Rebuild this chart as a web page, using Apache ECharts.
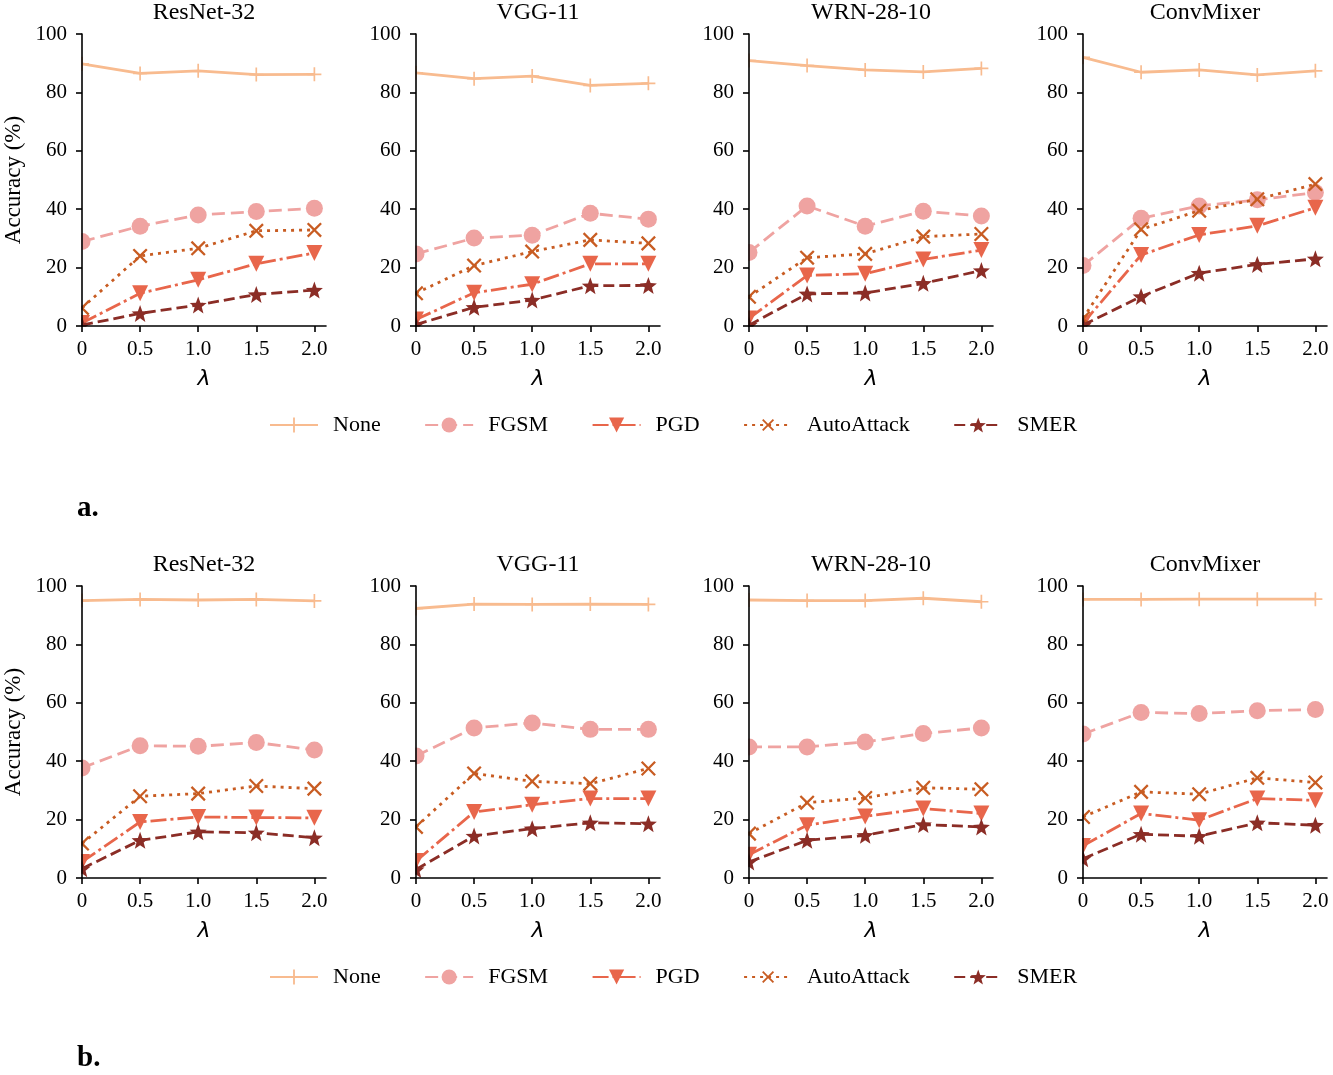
<!DOCTYPE html>
<html>
<head>
<meta charset="utf-8">
<script src="https://cdn.jsdelivr.net/npm/echarts@6/dist/echarts.min.js"></script>
<style>
  html, body { margin: 0; padding: 0; background: #fff; }
  #chart { width: 1333px; height: 1075px; }
</style>
</head>
<body>
<div id="chart"></div>
<script>
const LAMBDAS = [0, 0.5, 1, 1.5, 2]
const X_TICK_LABELS = ['0', '0.5', '1.0', '1.5', '2.0']
const MODELS = ['ResNet-32', 'VGG-11', 'WRN-28-10', 'ConvMixer']
const ATTACKS = ['None', 'FGSM', 'PGD', 'AutoAttack', 'SMER']
const PANEL_TAGS = ['a.', 'b.']

// rows: None, FGSM, PGD, AutoAttack, SMER
const a_resnet32 = [
  [89.8, 86.5, 87.4, 86.1, 86.2],
  [28.9, 34.2, 38.0, 39.2, 40.3],
  [1.0, 11.2, 15.8, 21.3, 25.0],
  [6.2, 24.0, 26.6, 32.6, 32.9],
  [0.3, 4.3, 7.2, 10.8, 12.3],
]
const a_vgg11 = [
  [86.7, 84.7, 85.6, 82.4, 83.1],
  [24.7, 30.1, 31.1, 38.6, 36.6],
  [2.2, 11.4, 14.3, 21.3, 21.3],
  [11.2, 20.7, 25.5, 29.5, 28.3],
  [0.5, 6.4, 8.9, 13.8, 13.9],
]
const a_wrn2810 = [
  [90.9, 89.2, 87.7, 87.0, 88.2],
  [25.2, 41.1, 34.2, 39.3, 37.7],
  [2.6, 17.3, 17.9, 22.8, 26.0],
  [10.0, 23.4, 24.7, 30.6, 31.5],
  [0.3, 11.0, 11.3, 14.6, 19.0],
]
const a_convmixer = [
  [92.0, 86.9, 87.7, 86.0, 87.4],
  [20.7, 36.9, 41.1, 43.2, 45.7],
  [0.9, 24.3, 31.2, 34.3, 40.5],
  [2.6, 33.1, 39.5, 43.4, 48.6],
  [0.3, 10.1, 18.1, 21.1, 23.0],
]
const b_resnet32 = [
  [95.0, 95.4, 95.2, 95.4, 94.9],
  [37.7, 45.3, 45.1, 46.4, 43.8],
  [5.5, 19.2, 20.9, 20.7, 20.6],
  [11.8, 28.0, 28.9, 31.5, 30.6],
  [3.2, 12.9, 15.8, 15.5, 13.8],
]
const b_vgg11 = [
  [92.3, 93.8, 93.7, 93.8, 93.7],
  [41.8, 51.4, 53.1, 50.9, 50.9],
  [5.8, 22.6, 25.1, 27.2, 27.2],
  [17.5, 35.8, 33.1, 32.3, 37.5],
  [2.9, 14.4, 16.9, 18.9, 18.6],
]
const b_wrn2810 = [
  [95.2, 95.0, 95.0, 95.8, 94.6],
  [44.9, 44.9, 46.6, 49.5, 51.4],
  [8.0, 18.1, 21.1, 23.8, 22.1],
  [15.2, 25.8, 27.4, 30.9, 30.4],
  [5.5, 12.9, 14.6, 18.3, 17.5],
]
const b_convmixer = [
  [95.4, 95.4, 95.5, 95.5, 95.5],
  [49.3, 56.7, 56.3, 57.3, 57.7],
  [11.0, 22.1, 19.8, 27.2, 26.6],
  [20.9, 29.5, 28.7, 34.3, 32.7],
  [6.6, 15.0, 14.3, 18.9, 18.1],
]

const PANELS = [
  [a_resnet32, a_vgg11, a_wrn2810, a_convmixer],
  [b_resnet32, b_vgg11, b_wrn2810, b_convmixer],
]

const SERIF = 'Liberation Serif'
const COLORS = ['#f8bb8f', '#efa3a1', '#e8664b', '#c85c22', '#8b2d26']

const plusPath = (() => {
  const t = 0.12
  return 'path://M' + [
    [-t, -1], [t, -1], [t, -t], [1, -t], [1, t], [t, t],
    [t, 1], [-t, 1], [-t, t], [-1, t], [-1, -t], [-t, -t],
  ].map(p => p.join(',')).join('L') + 'Z'
})()

const starPath = (() => {
  const pts = []
  for (let i = 0; i < 10; i++) {
    const r = i % 2 ? 0.42 : 1
    const a = (-90 + i * 36) * Math.PI / 180
    pts.push([(r * Math.cos(a)).toFixed(4), (r * Math.sin(a)).toFixed(4)])
  }
  return 'path://M' + pts.map(p => p.join(',')).join('L') + 'Z'
})()

const STYLES = [
  { symbol: plusPath, symbolSize: 14, symbolRotate: 0, dash: 'solid' },
  { symbol: 'circle', symbolSize: 17, symbolRotate: 0, dash: [13, 6] },
  { symbol: 'triangle', symbolSize: 16, symbolRotate: 180, dash: [16, 4, 3, 4] },
  { symbol: plusPath, symbolSize: 19, symbolRotate: 45, dash: [3, 5] },
  { symbol: starPath, symbolSize: 17, symbolRotate: 0, dash: [11, 5] },
]

const COL_LEFT = [82, 416, 749, 1083]
const ROW_TOP = [34, 586]
const GRID_W = 244
const GRID_H = 292

const grids = []
const xAxes = []
const yAxes = []
const series = []
const titles = []
const graphics = []

PANELS.forEach((row, r) => {
  row.forEach((vals, c) => {
    const idx = grids.length
    const left = COL_LEFT[c]
    const top = ROW_TOP[r]
    grids.push({ left, top, width: GRID_W, height: GRID_H, containLabel: false })

    titles.push({
      text: MODELS[c],
      left: left + GRID_W / 2,
      top: top - 33,
      textAlign: 'center',
      padding: 0,
      textStyle: { fontFamily: SERIF, fontSize: 24, fontWeight: 'normal', color: '#000' },
    })

    xAxes.push({
      gridIndex: idx,
      type: 'value',
      min: 0,
      max: 2.1,
      z: 100,
      name: 'λ',
      nameLocation: 'middle',
      nameGap: 42,
      nameTextStyle: { fontFamily: 'DejaVu Sans', fontStyle: 'italic', fontSize: 22, color: '#000' },
      axisLine: { show: true, lineStyle: { color: '#000', width: 1.6 } },
      axisTick: { show: true, length: 6, customValues: LAMBDAS, lineStyle: { color: '#000', width: 1.6 } },
      axisLabel: {
        customValues: LAMBDAS,
        formatter: (v) => {
          const i = LAMBDAS.indexOf(v)
          return i >= 0 ? X_TICK_LABELS[i] : ''
        },
        margin: 13,
        fontFamily: SERIF,
        fontSize: 21,
        color: '#000',
      },
      splitLine: { show: false },
    })

    yAxes.push({
      gridIndex: idx,
      type: 'value',
      min: 0,
      max: 100,
      interval: 20,
      z: 100,
      name: c === 0 ? 'Accuracy (%)' : '',
      nameLocation: 'middle',
      nameRotate: 90,
      nameGap: 57,
      nameTextStyle: { fontFamily: SERIF, fontSize: 23, color: '#000' },
      axisLine: { show: true, lineStyle: { color: '#000', width: 1.6 } },
      axisTick: { show: true, length: 6, lineStyle: { color: '#000', width: 1.6 } },
      axisLabel: { margin: 15, fontFamily: SERIF, fontSize: 21, color: '#000' },
      splitLine: { show: false },
    })

    ATTACKS.forEach((name, k) => {
      const st = STYLES[k]
      series.push({
        type: 'line',
        name,
        xAxisIndex: idx,
        yAxisIndex: idx,
        data: LAMBDAS.map((x, i) => [x, vals[k][i]]),
        symbol: st.symbol,
        symbolSize: st.symbolSize,
        symbolRotate: st.symbolRotate,
        showSymbol: true,
        clip: true,
        z: 2 + k * 0.01,
        itemStyle: { color: COLORS[k], borderWidth: 0 },
        lineStyle: { color: COLORS[k], width: 2.8, type: st.dash, cap: 'butt' },
        emphasis: { disabled: true },
        animation: false,
      })
    })

    // mask the parts of markers that fall outside the axes, like matplotlib's clipping
    graphics.push({
      type: 'rect',
      z: 50,
      shape: { x: left - 12, y: top - 12, width: 11.3, height: GRID_H + 24 },
      style: { fill: '#fff' },
    })
    graphics.push({
      type: 'rect',
      z: 50,
      shape: { x: left - 12, y: top + GRID_H + 0.7, width: GRID_W + 24, height: 8 },
      style: { fill: '#fff' },
    })
  })
})

PANEL_TAGS.forEach((tag, r) => {
  graphics.push({
    type: 'text',
    z: 60,
    left: 77,
    top: r === 0 ? 494 : 1044,
    style: { text: tag, fontFamily: SERIF, fontSize: 29, fontWeight: 'bold', fill: '#000' },
  })
})

const legendBase = {
  data: ATTACKS,
  left: 264,
  orient: 'horizontal',
  itemWidth: 48,
  itemHeight: 19,
  itemGap: 43.5,
  selectedMode: false,
  textStyle: { fontFamily: SERIF, fontSize: 22, color: '#000', padding: [0, 0, 0, 10] },
}

const chart = echarts.init(document.getElementById('chart'), null, { renderer: 'canvas' })
chart.setOption({
  backgroundColor: '#fff',
  animation: false,
  title: titles,
  grid: grids,
  xAxis: xAxes,
  yAxis: yAxes,
  legend: [
    Object.assign({}, legendBase, { top: 409 }),
    Object.assign({}, legendBase, { top: 961 }),
  ],
  graphic: graphics,
  series,
})
</script>
</body>
</html>
